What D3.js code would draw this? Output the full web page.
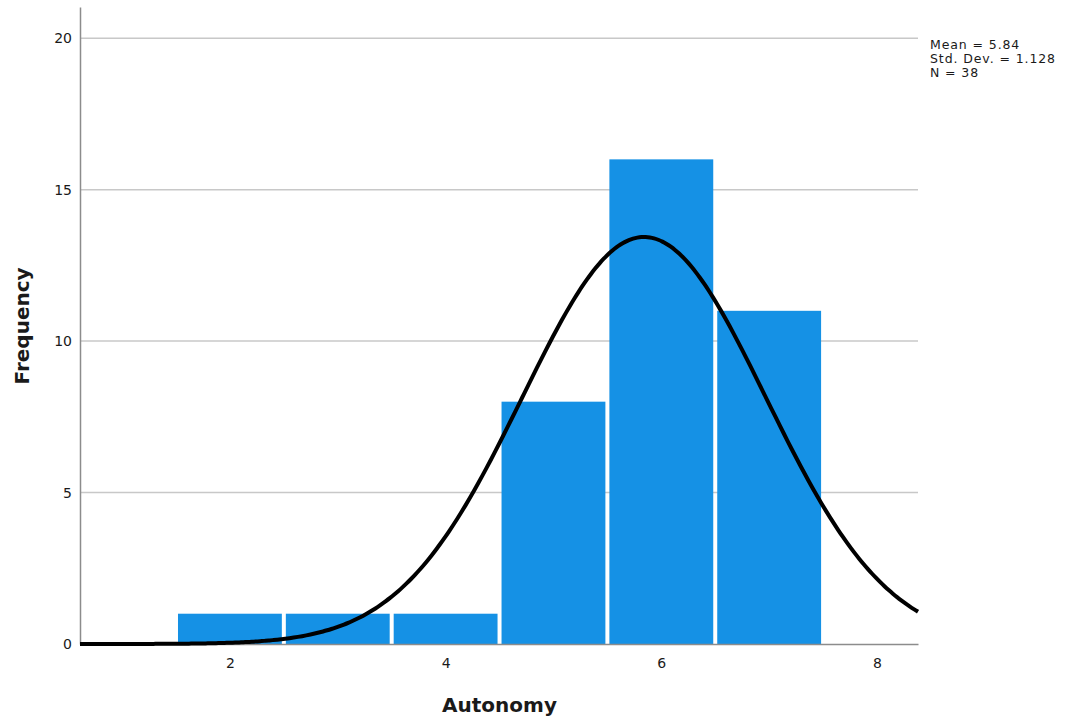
<!DOCTYPE html>
<html>
<head>
<meta charset="utf-8">
<script src="https://cdn.jsdelivr.net/npm/d3@7/dist/d3.min.js"></script>
<style>
  body { margin: 0; background: #fff; }
  text { font-family: "DejaVu Sans", "Noto Sans", sans-serif; fill: #1a1a1a; }
  .axis path { stroke: #8c8c8c; stroke-width: 1.5; }
  .grid line { stroke: #c8c8c8; stroke-width: 1.5; }
</style>
</head>
<body>
<div class="chart"></div>
<script>
// histogram bins (lower edge, upper edge) and counts
var binStarts = [1.5, 2.5, 3.5, 4.5, 5.5, 6.5];
var binEnds = [2.5, 3.5, 4.5, 5.5, 6.5, 7.5];
var counts = [1, 1, 1, 8, 16, 11];

var xTicks = [2, 4, 6, 8];
var yTicks = [0, 5, 10, 15, 20];

var stats = { mean: 5.84, sd: 1.128, n: 38 };
var statLines = ["Mean = 5.84", "Std. Dev. = 1.128", "N = 38"];

var width = 1070, height = 721;
var margins = { top: 7, right: 152, bottom: 77, left: 80 };
var chartWidth = width - margins.left - margins.right;
var chartHeight = height - margins.top - margins.bottom;

var svg = d3.select("div.chart")
  .append("svg")
  .attr("width", width)
  .attr("height", height);

var chartElement = svg.append("g")
  .attr("transform", `translate(${margins.left},${margins.top})`);

var xScale = d3.scaleLinear()
  .domain([0.61, 8.38])
  .range([0, chartWidth]);

var yScale = d3.scaleLinear()
  .domain([0, 21.03])
  .range([chartHeight, 0]);

// gridlines
chartElement.append("g")
  .attr("class", "grid")
  .selectAll("line")
  .data(yTicks.filter(d => d > 0))
  .enter()
  .append("line")
  .attr("x1", 0)
  .attr("x2", chartWidth)
  .attr("y1", d => yScale(d))
  .attr("y2", d => yScale(d));

// bars
chartElement.append("g")
  .attr("class", "bars")
  .selectAll("rect")
  .data(counts)
  .enter()
  .append("rect")
  .attr("x", (d, i) => xScale(binStarts[i]) + 2)
  .attr("width", (d, i) => xScale(binEnds[i]) - xScale(binStarts[i]) - 4)
  .attr("y", d => yScale(d))
  .attr("height", d => yScale(0) - yScale(d))
  .attr("fill", "#1591e5");

// axes
var xAxis = d3.axisBottom(xScale)
  .tickValues(xTicks)
  .tickSize(0)
  .tickPadding(14)
  .tickFormat(d3.format("d"));

var yAxis = d3.axisLeft(yScale)
  .tickValues(yTicks)
  .tickSize(0)
  .tickPadding(8)
  .tickFormat(d3.format("d"));

chartElement.append("g")
  .attr("class", "x axis")
  .attr("transform", `translate(0,${chartHeight})`)
  .call(xAxis)
  .call(g => g.selectAll("text").style("font-size", "14px"));

chartElement.append("g")
  .attr("class", "y axis")
  .call(yAxis)
  .call(g => g.selectAll("text").style("font-size", "14px"));

// normal curve from mean / sd / N (bin width 1)
var curveXs = d3.range(0, 201).map(i => xScale.domain()[0] + i * (xScale.domain()[1] - xScale.domain()[0]) / 200);
var normal = x => stats.n / (stats.sd * Math.sqrt(2 * Math.PI)) *
  Math.exp(-0.5 * Math.pow((x - stats.mean) / stats.sd, 2));

var line = d3.line()
  .x(d => xScale(d))
  .y(d => yScale(normal(d)))
  .curve(d3.curveBasis);

chartElement.append("path")
  .datum(curveXs)
  .attr("d", line)
  .attr("fill", "none")
  .attr("stroke", "#000")
  .attr("stroke-width", 4);

// axis titles
svg.append("text")
  .attr("x", margins.left + xScale(4.5))
  .attr("y", 712)
  .attr("text-anchor", "middle")
  .style("font-size", "20px")
  .style("font-weight", "bold")
  .text("Autonomy");

svg.append("text")
  .attr("transform", `translate(29,${margins.top + yScale(10.5)}) rotate(-90)`)
  .attr("text-anchor", "middle")
  .style("font-size", "20px")
  .style("font-weight", "bold")
  .text("Frequency");

// stats box
svg.append("g")
  .selectAll("text")
  .data(statLines)
  .enter()
  .append("text")
  .attr("x", 930)
  .attr("y", (d, i) => 49 + i * 14)
  .style("font-size", "12.5px")
  .style("letter-spacing", "0.9px")
  .text(d => d);
</script>
</body>
</html>
